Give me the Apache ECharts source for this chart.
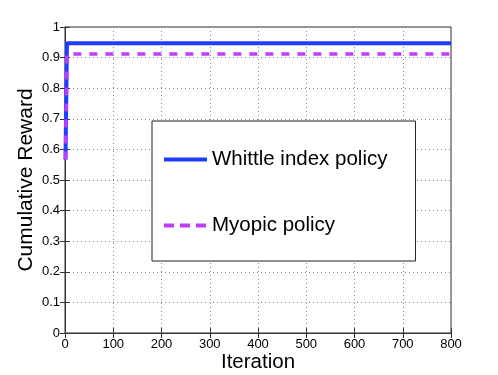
<!DOCTYPE html>
<html><head><meta charset="utf-8">
<script src="https://cdn.jsdelivr.net/npm/echarts@6/dist/echarts.min.js"></script>
<style>html,body{margin:0;padding:0;background:#fff}#c{width:498px;height:375px}</style>
</head><body><div id="c"></div>
<script>
const seriesNames = ['Whittle index policy', 'Myopic policy'];
const iterations = [1, 4, 800];
const whittle = [0.567, 0.947, 0.947];
const myopic = [0.567, 0.912, 0.912];
const xTicks = [0, 100, 200, 300, 400, 500, 600, 700, 800];
const yTicks = [0, 0.1, 0.2, 0.3, 0.4, 0.5, 0.6, 0.7, 0.8, 0.9, 1];

const font = 'Liberation Sans, Arial, sans-serif';
const blue = '#1f3dff', purple = '#c03cff';
const pair = (xs, ys) => xs.map((x, i) => [x, ys[i]]);
const chart = echarts.init(document.getElementById('c'));
const axisCommon = {
  axisLine: {show: true, lineStyle: {color: '#333', width: 1}},
  axisTick: {show: true, inside: true, length: 5, lineStyle: {color: '#333'}},
};
chart.setOption({
  animation: false,
  grid: {left: 65, right: 47, top: 27, bottom: 42, show: true, borderColor: '#333', borderWidth: 1,
    backgroundColor: 'transparent', containLabel: false, outerBoundsMode: 'none'},
  legend: {
    orient: 'vertical', left: 152, top: 121,
    data: [
      {name: seriesNames[0], lineStyle: {width: 4, color: blue, type: 'solid'}},
      {name: seriesNames[1], lineStyle: {width: 4, color: purple, type: [10, 6]}}
    ],
    backgroundColor: '#fff', borderColor: '#222', borderWidth: 1,
    padding: [28, 28, 25, 10],
    itemGap: 45, itemWidth: 43, itemHeight: 24,
    itemStyle: {opacity: 0},
    textStyle: {fontFamily: font, fontSize: 20.5, color: '#000'}
  },
  xAxis: [{
    type: 'value', min: 0, max: 800, interval: 100,
    name: 'Iteration', nameLocation: 'middle', nameGap: 19, nameMoveOverlap: false,
    nameTextStyle: {fontFamily: font, fontSize: 20.5, color: '#000'},
    axisLabel: {fontFamily: font, fontSize: 13, color: '#000', margin: 5,
      formatter: v => xTicks.includes(v) ? String(v) : ''},
    splitLine: {show: true, lineStyle: {type: [1, 3], color: '#888'}},
    ...axisCommon
  }, {
    type: 'value', position: 'top', min: 0, max: 800, interval: 100,
    axisLabel: {show: false}, splitLine: {show: false}, ...axisCommon
  }],
  yAxis: [{
    type: 'value', min: 0, max: 1, interval: 0.1,
    name: 'Cumulative Reward', nameLocation: 'middle', nameGap: 28, nameMoveOverlap: false,
    nameTextStyle: {fontFamily: font, fontSize: 21, color: '#000'},
    axisLabel: {fontFamily: font, fontSize: 13, color: '#000', margin: 5,
      formatter: v => String(yTicks.find(t => Math.abs(t - v) < 1e-9) ?? '')},
    splitLine: {show: true, lineStyle: {type: [1, 3], color: '#888'}},
    ...axisCommon
  }, {
    type: 'value', position: 'right', min: 0, max: 1, interval: 0.1,
    axisLabel: {show: false}, splitLine: {show: false}, ...axisCommon
  }],
  series: [{
    name: seriesNames[0], type: 'line', data: pair(iterations, whittle),
    symbol: 'none', color: blue,
    lineStyle: {color: blue, width: 4}
  }, {
    name: seriesNames[1], type: 'line', data: pair(iterations, myopic),
    symbol: 'none', color: purple,
    lineStyle: {color: purple, width: 3.5, type: [8, 8]}
  }]
});
</script></body></html>
